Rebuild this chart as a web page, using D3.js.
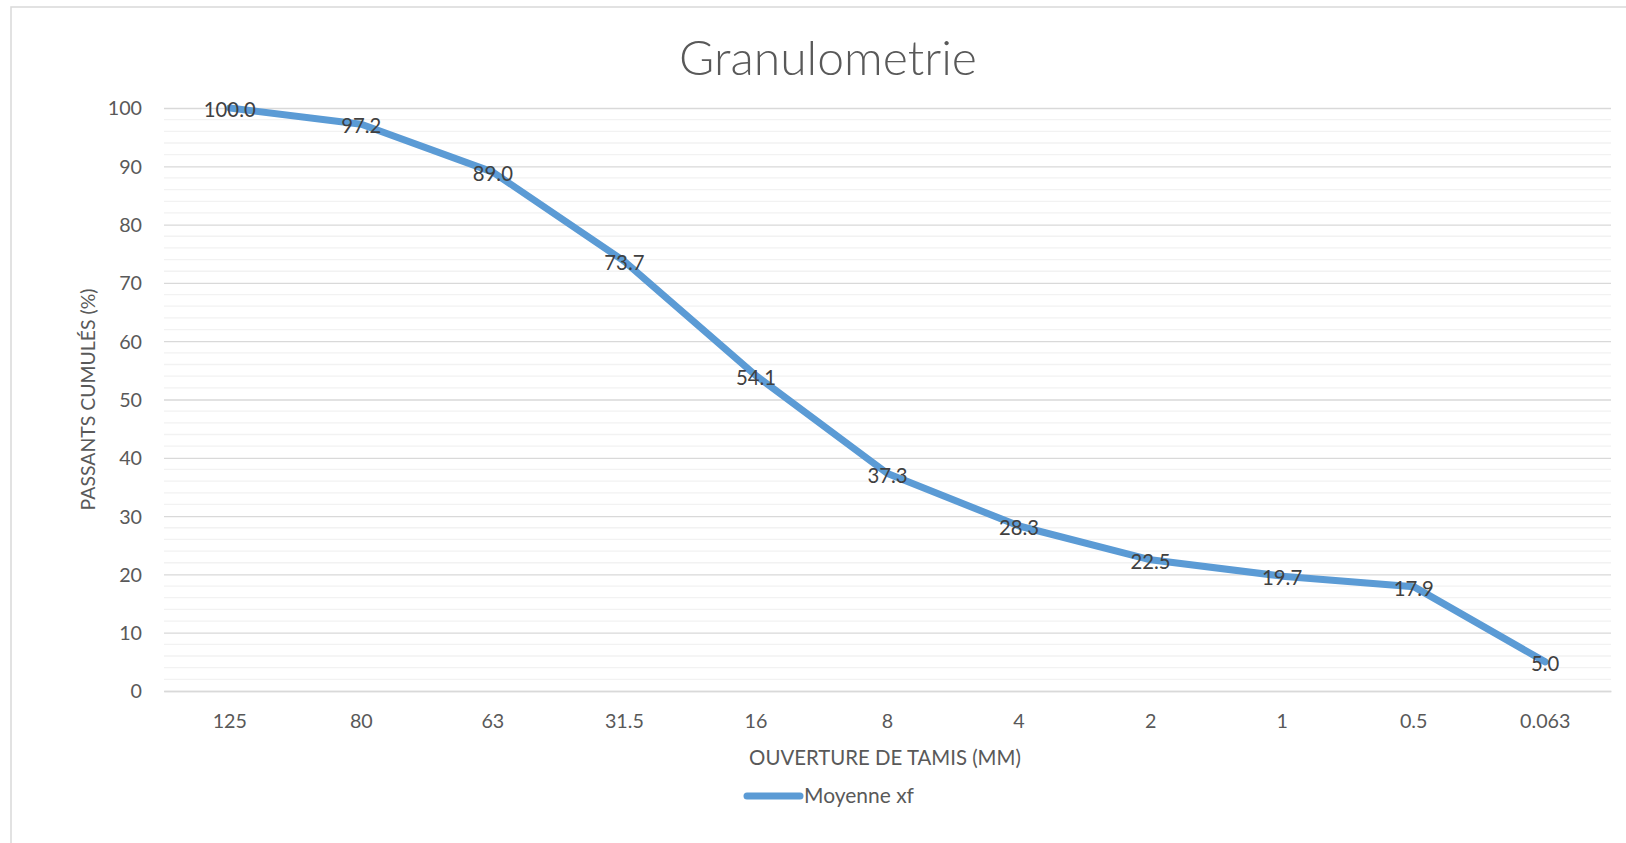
<!DOCTYPE html>
<html>
<head>
<meta charset="utf-8">
<script src="https://cdn.jsdelivr.net/npm/d3@7"></script>
<style>
  html, body { margin: 0; padding: 0; background: #fff; }
  svg { display: block; font-family: Lato, "Open Sans", sans-serif; }
</style>
</head>
<body>
<svg id="chart" width="1626" height="843"></svg>
<script>
// ---- data ----
const categories = ["125", "80", "63", "31.5", "16", "8", "4", "2", "1", "0.5", "0.063"];
const values = [100.0, 97.2, 89.0, 73.7, 54.1, 37.3, 28.3, 22.5, 19.7, 17.9, 5.0];
const yTicks = [0, 10, 20, 30, 40, 50, 60, 70, 80, 90, 100];
const seriesName = "Moyenne xf";
const title = "Granulometrie";
const xTitle = "OUVERTURE DE TAMIS (MM)";
const yTitle = "PASSANTS CUMULÉS (%)";

// ---- layout ----
const W = 1626, H = 843;
const plot = { left: 164, right: 1611, top: 108, bottom: 691 };
const svg = d3.select("#chart");

function fit(sel, target) {
  const w = sel.node().getComputedTextLength();
  const fs = parseFloat(sel.attr("font-size"));
  sel.attr("font-size", fs * target / w);
}

// chart area border
svg.append("rect")
  .attr("x", 11).attr("y", 7)
  .attr("width", W + 20).attr("height", H + 20)
  .attr("fill", "#fff").attr("stroke", "#d9d9d9").attr("stroke-width", 1.5);

const x = d3.scaleBand().domain(categories).range([plot.left, plot.right]).padding(0);
const y = d3.scaleLinear().domain([0, 100]).range([plot.bottom, plot.top]);

// minor gridlines
const minor = d3.range(0, 101, 2).filter(v => v % 10 !== 0);
svg.append("g").selectAll("line").data(minor).join("line")
  .attr("x1", plot.left).attr("x2", plot.right)
  .attr("y1", d => y(d)).attr("y2", d => y(d))
  .attr("stroke", "#f2f2f2").attr("stroke-width", 1.3);

// major gridlines via axis
const yAxis = d3.axisLeft(y).tickValues(yTicks).tickSize(-(plot.right - plot.left)).tickPadding(22).tickFormat(d3.format("d"));
const gy = svg.append("g").attr("transform", `translate(${plot.left},0)`).call(yAxis);
gy.select(".domain").remove();
gy.selectAll(".tick line").attr("stroke", "#d9d9d9").attr("stroke-width", 1.3);
gy.selectAll(".tick text").attr("fill", "#595959").attr("font-size", 19.7)
  .attr("font-family", "Lato, sans-serif").attr("dy", "0.35em");

// x axis
const xAxis = d3.axisBottom(x).tickSize(0).tickPadding(0);
const gx = svg.append("g").attr("transform", `translate(0,${plot.bottom})`).call(xAxis);
gx.select(".domain").attr("stroke", "#d9d9d9").attr("stroke-width", 1.3);
gx.selectAll(".tick text").attr("fill", "#595959").attr("font-size", 19.7)
  .attr("font-family", "Lato, sans-serif").attr("dy", 0).attr("y", 37);

// line
const cx = d => x(d) + x.bandwidth() / 2;
const line = d3.line().x((d, i) => cx(categories[i])).y(d => y(d));
svg.append("path").datum(values)
  .attr("d", line).attr("fill", "none")
  .attr("stroke", "#5b9bd5").attr("stroke-width", 7)
  .attr("stroke-linejoin", "round").attr("stroke-linecap", "round");

// data labels
svg.append("g").selectAll("text").data(values).join("text")
  .attr("x", (d, i) => cx(categories[i]))
  .attr("y", d => y(d) + 9)
  .attr("text-anchor", "middle")
  .attr("fill", "#404040").attr("font-size", 20.3)
  .text(d => d.toFixed(1));

// title
const t = svg.append("text").attr("x", 828).attr("y", 75).attr("text-anchor", "middle")
  .attr("fill", "#595959").attr("font-size", 46).attr("font-weight", 300).text(title);
fit(t, 298);

// x axis title
const xt = svg.append("text").attr("x", 885).attr("y", 765).attr("text-anchor", "middle")
  .attr("fill", "#595959").attr("font-size", 19).text(xTitle);
fit(xt, 272);

// y axis title
const yt = svg.append("text").attr("transform", `translate(95,${(plot.top + plot.bottom) / 2}) rotate(-90)`)
  .attr("text-anchor", "middle").attr("fill", "#595959").attr("font-size", 19).text(yTitle);
fit(yt, 222);

// legend
const lg = svg.append("g");
lg.append("line").attr("x1", 747).attr("x2", 800).attr("y1", 796).attr("y2", 796)
  .attr("stroke", "#5b9bd5").attr("stroke-width", 7).attr("stroke-linecap", "round");
const lt = lg.append("text").attr("x", 804).attr("y", 803).attr("fill", "#595959")
  .attr("font-size", 19.5).text(seriesName);
fit(lt, 110);
</script>
</body>
</html>
